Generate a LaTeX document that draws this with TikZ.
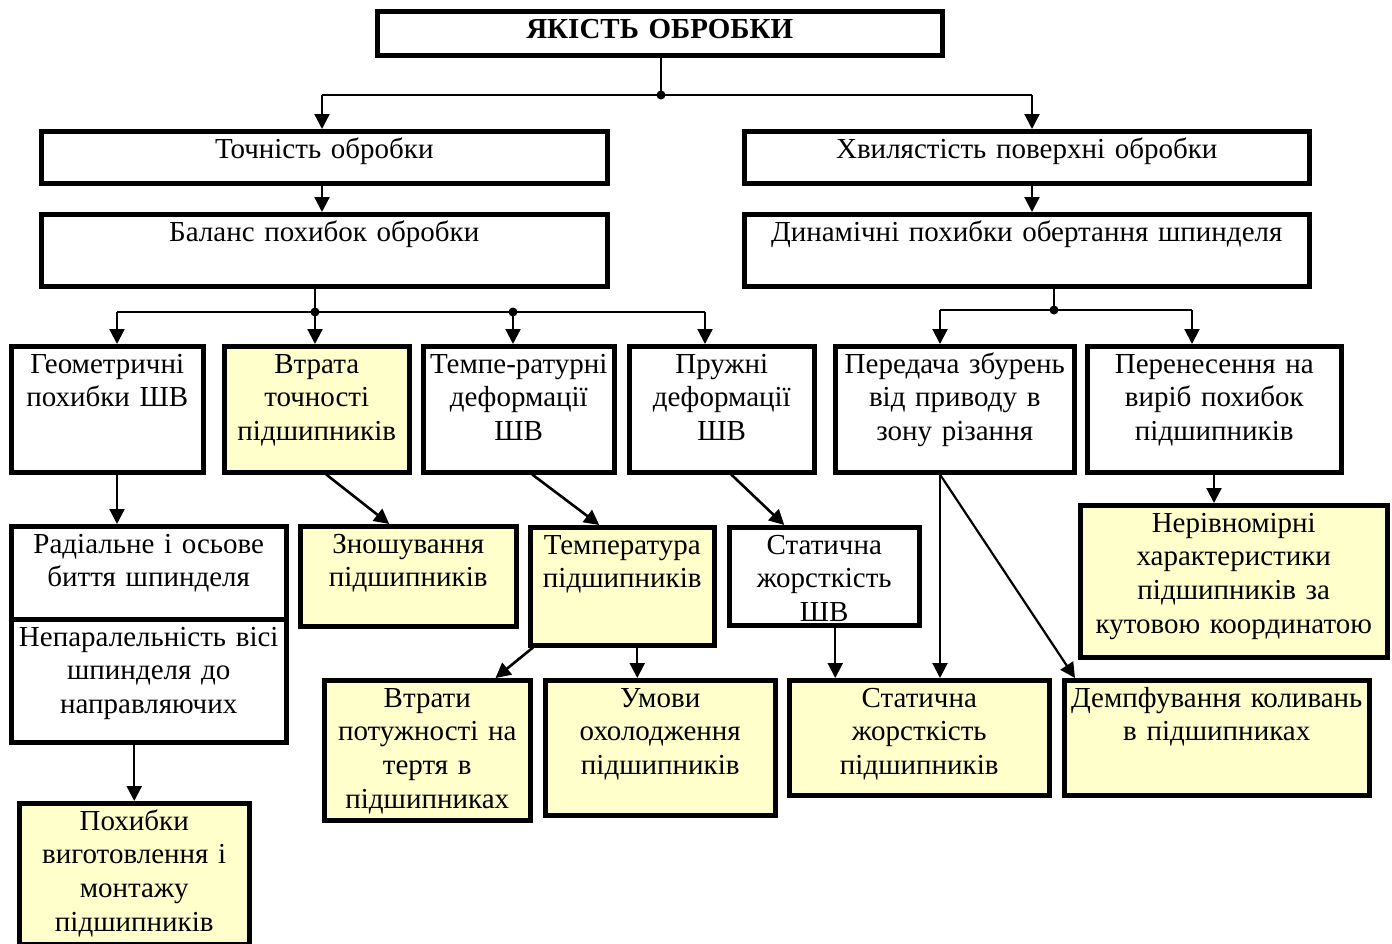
\documentclass[tikz,border=0pt]{standalone}
\usepackage{fontspec}
\setmainfont{Liberation Serif}
\usetikzlibrary{arrows.meta,calc}
\definecolor{yel}{HTML}{FFFFCC}
\tikzset{
 box/.style={draw, line width=4.5pt, inner sep=0pt, anchor=north west},
 tx/.style={inner sep=0pt, align=center, font=\fontsize{29}{33.7}\selectfont, anchor=base},
 arr/.style={line width=2.2pt, -{Triangle[length=15pt,width=15pt]}},
 darr/.style={arr, line width=2.6pt},
 ln/.style={line width=2.2pt},
 dot/.style={circle, fill, inner sep=0pt, minimum size=9pt},
}
\newcommand\bx[7]{%
 \node[box, fill=#2, minimum width={#5-#3}, minimum height={#6-#4}] (#1) at (#3,#4) {};
 \node[tx, text width={#5-#3+20}] (#1t) at ($(#1.north)+(0,29)$) {#7};}
\begin{document}
\begin{tikzpicture}[x=1pt,y=-1pt]
\useasboundingbox (0,0) rectangle (1392,943);
% boxes
\bx{top}{white}{375}{9}{940}{53}{\textbf{ЯКІСТЬ ОБРОБКИ}}
\bx{tochn}{white}{39}{129}{605}{181}{Точність обробки}
\bx{hvyl}{white}{742}{129}{1307}{181}{Хвилястість поверхні обробки}
\bx{bal}{white}{39}{212}{605}{284}{Баланс похибок обробки}
\bx{dyn}{white}{742}{212}{1307}{284}{Динамічні похибки обертання шпинделя}
\bx{geom}{white}{9}{344}{201}{470}{Геометричні\\похибки ШВ}
\bx{vtr}{yel}{222}{344}{407}{470}{Втрата\\точності\\підшипників}
\bx{temp}{white}{421}{344}{612}{470}{Темпе-ратурні\\деформації\\ШВ}
\bx{pruzh}{white}{627}{344}{812}{470}{Пружні\\деформації\\ШВ}
\bx{pered}{white}{833}{344}{1072}{470}{Передача збурень\\від приводу в\\зону різання}
\bx{peren}{white}{1085}{344}{1339}{470}{Перенесення на\\виріб похибок\\підшипників}
\bx{rad}{white}{9}{524}{284}{617}{Радіальне і осьове\\биття шпинделя}
\bx{nepar}{white}{9}{617}{284}{740}{Непаралельність вісі\\шпинделя до\\направляючих}
\bx{zn}{yel}{298}{524}{514}{624}{Зношування\\підшипників}
\bx{tempr}{yel}{528}{525}{712}{643}{Температура\\підшипників}
\bx{stat1}{white}{727}{525}{917}{623}{Статична\\жорсткість\\ШВ}
\bx{ner}{yel}{1078}{503}{1385}{655}{Нерівномірні\\характеристики\\підшипників за\\кутовою координатою}
\bx{vtraty}{yel}{322}{678}{528}{818}{Втрати\\потужності на\\тертя в\\підшипниках}
\bx{umovy}{yel}{543}{678}{773}{813}{Умови\\охолодження\\підшипників}
\bx{stat2}{yel}{787}{678}{1047}{793}{Статична\\жорсткість\\підшипників}
\bx{demp}{yel}{1062}{678}{1367}{793}{Демпфування коливань\\в підшипниках}
\bx{pokh}{yel}{17}{801}{247}{942}{Похибки\\виготовлення і\\монтажу\\підшипників}
% junction coordinates
\coordinate (j1) at (661,95);
\coordinate (jl) at (322,95);
\coordinate (jr) at (1032,95);
\coordinate (b0) at (315,312);
\coordinate (bL) at (117,312);
\coordinate (bM) at (513,312);
\coordinate (bR) at (705,312);
\coordinate (d0) at (1054,310);
\coordinate (dL) at (940,310);
\coordinate (dR) at (1192,310);
\coordinate (pp) at (1214,0);
% top level
\draw[ln] (top.south -| j1) -- (j1);
\draw[ln] (jl) -- (jr);
\draw[arr] (jl) -- (tochn.north -| jl);
\draw[arr] (jr) -- (hvyl.north -| jr);
\draw[arr] (tochn.south -| jl) -- (bal.north -| jl);
\draw[arr] (hvyl.south -| jr) -- (dyn.north -| jr);
% balance branch
\draw[ln] (bal.south -| b0) -- (b0);
\draw[ln] (bL) -- (bR);
\draw[arr] (bL) -- (geom.north -| bL);
\draw[arr] (b0) -- (vtr.north -| b0);
\draw[arr] (bM) -- (temp.north -| bM);
\draw[arr] (bR) -- (pruzh.north -| bR);
% dynamic branch
\draw[ln] (dyn.south -| d0) -- (d0);
\draw[ln] (dL) -- (dR);
\draw[arr] (dL) -- (pered.north -| dL);
\draw[arr] (dR) -- (peren.north -| dR);
% lower connectors
\draw[arr] (geom.south -| bL) -- (rad.north -| bL);
\draw[darr] ([xshift=9.5pt]vtr.south) -- ([xshift=-19pt]zn.north);
\draw[darr] ([xshift=13.5pt]temp.south) -- ([xshift=-23pt]tempr.north);
\draw[darr] ([xshift=9.5pt]pruzh.south) -- ([xshift=-40pt]stat1.north);
\draw[arr] (peren.south -| pp) -- (ner.north -| pp);
\draw[arr] (pered.south -| dL) -- (stat2.north -| dL);
\draw[arr] (pered.south -| dL) -- ([xshift=13pt]demp.north west);
\draw[arr] ([xshift=11pt]stat1.south) -- ([xshift=11pt]stat1.south |- stat2.north);
\draw[darr] ([xshift=5pt]tempr.south west) -- ([xshift=-37pt]vtraty.north east);
\draw[arr] ([xshift=15pt]tempr.south) -- ([xshift=15pt]tempr.south |- umovy.north);
\draw[arr] (pokh.north |- nepar.south) -- (pokh.north);
% dots
\node[dot] (dot1) at (j1) {};
\node[dot] (dot2) at (b0) {};
\node[dot] (dot3) at (bM) {};
\node[dot] (dot4) at (d0) {};
\end{tikzpicture}
\end{document}
